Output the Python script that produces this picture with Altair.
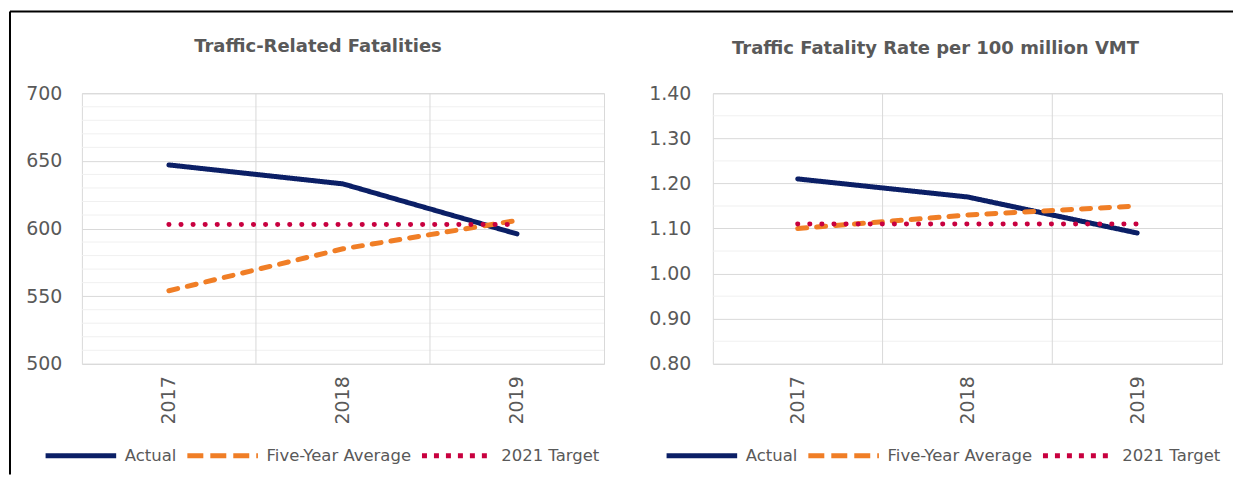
import altair as alt
import pandas as pd

years = [2017, 2018, 2019]
series_names = ["Actual", "Five-Year Average", "2021 Target"]

fatal_actual = [647, 633, 596]
fatal_avg = [554, 585, 606]
fatal_target = [603, 603, 603]

rate_actual = [1.21, 1.17, 1.09]
rate_avg = [1.10, 1.13, 1.15]
rate_target = [1.11, 1.11, 1.11]

fatal_major = [500, 550, 600, 650, 700]
fatal_minor = [510, 520, 530, 540, 560, 570, 580, 590, 610, 620, 630, 640, 660, 670, 680, 690]
rate_major = [0.80, 0.90, 1.00, 1.10, 1.20, 1.30, 1.40]
rate_minor = [0.85, 0.95, 1.05, 1.15, 1.25, 1.35]
category_bounds = [2017.5, 2018.5]

COLORS = ["#0B1F66", "#F07E26", "#C8003F"]
LINE_DASHES = [[1, 0], [9, 10], [0.1, 12]]
LEGEND_DASHES = [[1, 0], [16, 7], [5, 7]]
FONT = "DejaVu Sans"
GRAY = "#595959"


def long_df(a, b, c):
    rows = []
    for name, vals in zip(series_names, [a, b, c]):
        for y, v in zip(years, vals):
            rows.append({"year": y, "series": name, "value": v})
    return pd.DataFrame(rows)


def panel(df, domain, major, minor, title, dx, toffset, label_pad, fmt,
          legend_x, width, frame=False):
    xscale = alt.Scale(domain=[2016.5, 2019.5], nice=False, zero=False)
    yscale = alt.Scale(domain=domain, nice=False, zero=False)
    xaxis = alt.Axis(values=years, format="d", labelAngle=270, ticks=False,
                     domain=False, grid=False, title=None, labelFontSize=19,
                     labelColor=GRAY, labelFont=FONT, labelPadding=12)
    yaxis = alt.Axis(values=major, format=fmt, grid=True, gridColor="#D9D9D9",
                     ticks=False, domain=False, title=None, labelFontSize=19,
                     labelColor=GRAY, labelFont=FONT, labelPadding=label_pad)
    legend = alt.Legend(
        orient="none", legendX=legend_x, legendY=325, direction="horizontal",
        title=None, symbolType="stroke", symbolSize=5000, symbolStrokeWidth=5,
        labelFontSize=16.5, labelColor=GRAY, labelFont=FONT, labelOffset=6,
        columnPadding=0, padding=0,
    )
    color = alt.Color("series:N", scale=alt.Scale(domain=series_names, range=COLORS),
                      legend=legend)
    minor_rules = alt.Chart(pd.DataFrame({"v": minor})).mark_rule(
        color="#F0F0F0", strokeWidth=1
    ).encode(y=alt.Y("v:Q", scale=yscale, axis=yaxis))
    vrules = alt.Chart(pd.DataFrame({"b": category_bounds})).mark_rule(
        color="#D9D9D9", strokeWidth=1
    ).encode(x=alt.X("b:Q", scale=xscale, axis=xaxis))
    layers = [minor_rules, vrules]
    for name, dash in zip(series_names, LINE_DASHES):
        layers.append(
            alt.Chart(df).transform_filter(alt.datum.series == name)
            .mark_line(strokeWidth=5, strokeCap="round", strokeDash=dash)
            .encode(x=alt.X("year:Q", scale=xscale, axis=xaxis),
                    y=alt.Y("value:Q", scale=yscale, axis=yaxis),
                    color=color)
        )
    # legend carrier (no rows drawn): gives the merged colour + dash legend
    layers.append(
        alt.Chart(df).transform_filter("false")
        .mark_line(strokeWidth=5)
        .encode(x=alt.X("year:Q", scale=xscale, axis=xaxis),
                y=alt.Y("value:Q", scale=yscale, axis=yaxis),
                color=color,
                strokeDash=alt.StrokeDash(
                    "series:N", scale=alt.Scale(domain=series_names, range=LEGEND_DASHES),
                    legend=legend))
    )
    if frame:
        dummy = pd.DataFrame({"k": [0]})
        layers.append(alt.Chart(dummy).mark_rule(color="#000000", strokeWidth=2).encode(
            x=alt.value(-72), y=alt.value(-82), y2=alt.value(382)))
        layers.append(alt.Chart(dummy).mark_rule(color="#000000", strokeWidth=2).encode(
            x=alt.value(-72), x2=alt.value(1153), y=alt.value(-82)))
    return alt.layer(*layers).properties(
        width=width, height=271,
        title=alt.TitleParams(title, fontSize=18, fontWeight="bold", color=GRAY,
                              font=FONT, frame="group", anchor="middle", dx=dx,
                              offset=toffset, baseline="alphabetic"),
    )


left = panel(long_df(fatal_actual, fatal_avg, fatal_target), [500, 700], fatal_major,
             fatal_minor, "Traffic-Related Fatalities", -25, -60, 20, "d", -39, 523,
             frame=True)
right = panel(long_df(rate_actual, rate_avg, rate_target), [0.8, 1.4], rate_major,
              rate_minor, "Traffic Fatality Rate per 100 million VMT", -32, 12, 22, ".2f",
              -49, 510)

chart = alt.hconcat(left, right, spacing=109, bounds="flush").resolve_scale(
    color="independent", strokeDash="independent"
).properties(
    padding={"left": 0, "top": 1, "right": 0, "bottom": 0}
).configure_view(stroke="#D9D9D9")

chart.save("out.html", embed_options={"renderer": "svg", "actions": False})
